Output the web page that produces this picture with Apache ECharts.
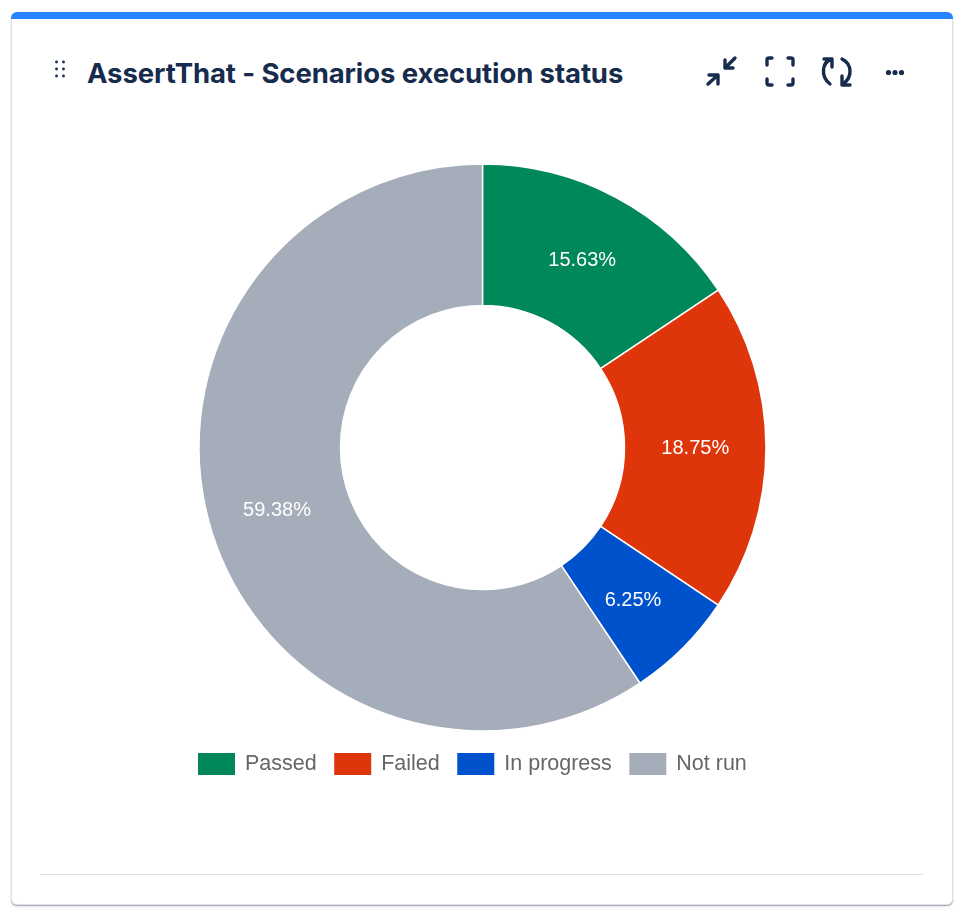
<!DOCTYPE html>
<html><head><meta charset="utf-8">
<script src="https://cdn.jsdelivr.net/npm/echarts@6/dist/echarts.min.js"></script>
<style>
html,body{margin:0;padding:0;background:#fff;width:970px;height:916px;overflow:hidden}
#card{position:absolute;left:11px;top:12px;width:940px;height:892px;background:#fff;border:1px solid #dfe1e6;border-top:none;border-radius:6px;box-shadow:0 1px 1px rgba(9,30,66,.35),0 2px 3px rgba(9,30,66,.08);box-sizing:content-box}
#bar{position:absolute;left:-1px;top:0;width:942px;height:7px;background:#2684FF;border-radius:6px 6px 0 0}
#title{position:absolute;left:75px;top:42px;font:700 27.5px/38px Inter,"Liberation Sans",sans-serif;color:#172B4D;white-space:nowrap;letter-spacing:-.1px}
#rule{position:absolute;left:28px;top:862px;width:883px;height:1px;background:#dfe1e6}
#chart{position:absolute;left:0;top:0;width:970px;height:916px}
svg.ic{position:absolute;left:0;top:0}
</style></head><body>
<div id="card"><div id="bar"></div><div id="title">AssertThat - Scenarios execution status</div><div id="rule"></div></div>
<svg class="ic" width="970" height="110" fill="none" stroke="#172B4D" stroke-width="3.4" stroke-linecap="round" stroke-linejoin="round">
<g fill="#172B4D" stroke="none"><circle cx="56.5" cy="62" r="1.4"/><circle cx="63.5" cy="62" r="1.4"/><circle cx="56.5" cy="69" r="1.4"/><circle cx="63.5" cy="69" r="1.4"/><circle cx="56.5" cy="76" r="1.4"/><circle cx="63.5" cy="76" r="1.4"/>
<circle cx="888.5" cy="72.5" r="2.6"/><circle cx="895" cy="72.5" r="2.6"/><circle cx="901.5" cy="72.5" r="2.6"/></g>
<path d="M735 58L725 68M725 60V68H733M708 84L718 75M709 75H718V84"/>
<path d="M767 65V60Q767 58 769 58H772M788 58H791Q793 58 793 60V65M793 79V83Q793 85 791 85H788M772 85H769Q767 85 767 83V79"/>
<path d="M832 59C822 62 820 76 830 84M824 59H832V67M842 59C852 64 853 77 843 84M842 76V85H850"/>
</svg>
<div id="chart"></div>
<script>
const categories=["Passed","Failed","In progress","Not run"];
const percents=[15.63,18.75,6.25,59.38];
const colors=["#00875A","#DE350B","#0052CC","#A5ADBA"];
const labelNudges=[[-2,3],[-3,1],[-2,0],[1,0]];
const chart=echarts.init(document.getElementById('chart'),null,{renderer:'canvas'});
chart.setOption({
 animation:false,
 legend:{left:193,top:748,itemWidth:37,itemHeight:22,itemGap:17.5,icon:'rect',
  itemStyle:{borderWidth:0},
  textStyle:{color:'#666',fontSize:21.5,fontFamily:'"Liberation Sans",sans-serif',padding:[0,0,0,5]},data:categories},
 series:[{type:'pie',center:[482.5,447.5],radius:[142,283.5],startAngle:90,clockwise:true,
  itemStyle:{borderColor:'#fff',borderWidth:1.5},
  label:{position:'inside',formatter:'{c}%',color:'#fff',fontSize:20,fontFamily:'"Liberation Sans",sans-serif'},
  labelLine:{show:false},emphasis:{disabled:true},
  data:categories.map((n,i)=>({name:n,value:percents[i],itemStyle:{color:colors[i]},label:{offset:labelNudges[i]}}))}]
});
</script></body></html>
